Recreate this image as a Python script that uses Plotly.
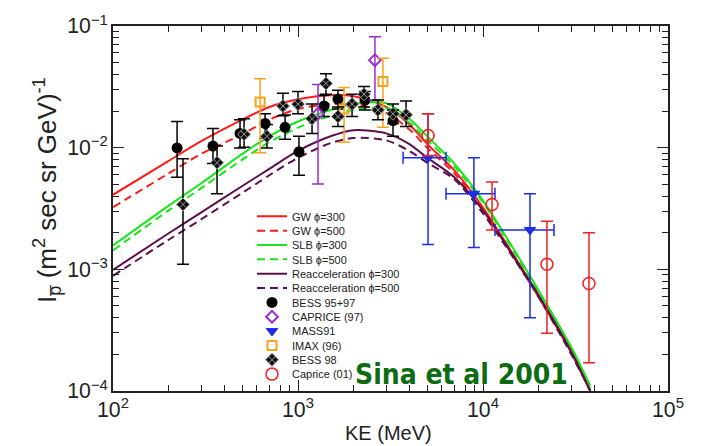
import plotly.graph_objects as go

# ---------------- model curves ----------------
E_model = [100, 200, 300, 500, 700, 1000, 1500, 2000, 3000, 4000, 5000, 7000, 10000, 15000, 20000, 30000, 38000]
gw300 = [4.1e-3, 7.8e-3, 1.13e-2, 1.7e-2, 2.16e-2, 2.5e-2, 2.7e-2, 2.65e-2, 2.16e-2, 1.55e-2, 1.07e-2, 6.5e-3, 3.22e-3, 1.23e-3, 6.1e-4, 2.14e-4, 1.0e-4]
gw500 = [3.24e-3, 6.15e-3, 8.9e-3, 1.29e-2, 1.7e-2, 2.08e-2, 2.28e-2, 2.28e-2, 1.93e-2, 1.41e-2, 9.96e-3, 6.15e-3, 3.1e-3, 1.19e-3, 5.9e-4, 2.06e-4, 9.9e-5]
slb300 = [1.57e-3, 3.34e-3, 5.1e-3, 8.9e-3, 1.24e-2, 1.64e-2, 2.04e-2, 2.29e-2, 2.32e-2, 1.73e-2, 1.24e-2, 7.4e-3, 3.67e-3, 1.38e-3, 6.7e-4, 2.3e-4, 1.1e-4]
slb500 = [1.43e-3, 3.05e-3, 4.65e-3, 7.98e-3, 1.11e-2, 1.46e-2, 1.83e-2, 2.04e-2, 2.12e-2, 1.61e-2, 1.15e-2, 7.0e-3, 3.54e-3, 1.33e-3, 6.5e-4, 2.22e-4, 1.04e-4]
reacc300 = [9.9e-4, 1.98e-3, 2.94e-3, 4.84e-3, 6.7e-3, 9.4e-3, 1.24e-2, 1.39e-2, 1.31e-2, 1.07e-2, 8.26e-3, 5.71e-3, 3.05e-3, 1.21e-3, 6.1e-4, 2.1e-4, 1.0e-4]
reacc500 = [8.85e-4, 1.75e-3, 2.58e-3, 4.25e-3, 5.93e-3, 8.26e-3, 1.09e-2, 1.2e-2, 1.15e-2, 9.4e-3, 7.5e-3, 5.5e-3, 2.88e-3, 1.17e-3, 5.9e-4, 2.0e-4, 1.0e-4]

# ---------------- data sets ----------------
bess9597_E = [222, 347, 486, 664, 851, 1012, 1383, 1644, 2300, 3263]
bess9597_I = [9.96e-3, 1.03e-2, 1.31e-2, 1.58e-2, 1.47e-2, 9.25e-3, 2.20e-2, 2.51e-2, 2.46e-2, 1.67e-2]
bess9597_hi = [1.64e-2, 1.44e-2, 1.70e-2, 1.90e-2, 1.86e-2, 1.24e-2, 2.70e-2, 2.96e-2, 2.90e-2, 2.04e-2]
bess9597_lo = [5.71e-3, 7.40e-3, 9.96e-3, 1.20e-2, 1.17e-2, 5.93e-3, 1.80e-2, 2.08e-2, 2.04e-2, 1.24e-2]

bess98_E = [239, 365, 511, 679, 829, 1000, 1191, 1416, 1644, 1960, 2275, 2705, 3263, 3838]
bess98_I = [3.41e-3, 7.53e-3, 1.29e-2, 1.24e-2, 2.20e-2, 2.28e-2, 1.73e-2, 3.37e-2, 1.80e-2, 2.28e-2, 2.75e-2, 2.04e-2, 1.90e-2, 1.86e-2]
bess98_hi = [8.11e-3, 1.03e-2, 1.73e-2, 1.55e-2, 2.80e-2, 2.90e-2, 2.28e-2, 4.05e-2, 2.16e-2, 2.75e-2, 3.18e-2, 2.46e-2, 2.28e-2, 2.42e-2]
bess98_lo = [1.10e-3, 4.18e-3, 1.01e-2, 9.96e-3, 1.83e-2, 1.90e-2, 1.31e-2, 2.75e-2, 1.49e-2, 1.80e-2, 2.16e-2, 1.70e-2, 1.58e-2, 1.49e-2]

caprice97_E = [1283, 2606]
caprice97_I = [1.90e-2, 5.24e-2]
caprice97_hi = [3.30e-2, 8.16e-2]
caprice97_lo = [5.02e-3, 2.46e-2]

imax_E = [624, 1774, 2878]
imax_I = [2.37e-2, 2.08e-2, 3.49e-2]
imax_hi = [3.69e-2, 3.13e-2, 5.43e-2]
imax_lo = [9.08e-3, 1.11e-2, 1.47e-2]

mass91_E = [5047, 8930, 17950]
mass91_I = [8.26e-3, 4.18e-3, 2.11e-3]
mass91_hi = [1.90e-2, 8.26e-3, 4.18e-3]
mass91_lo = [1.60e-3, 1.51e-3, 4.00e-4]
mass91_Elo = [3698, 6310, 11610]
mass91_Ehi = [6310, 11610, 24200]

caprice01_E = [5047, 11190, 22170, 37400]
caprice01_I = [1.26e-2, 3.41e-3, 1.10e-3, 7.64e-4]
caprice01_hi = [1.90e-2, 5.21e-3, 2.49e-3, 2.00e-3]
caprice01_lo = [8.58e-3, 2.11e-3, 2.98e-4, 1.71e-4]

x_log_range = [2, 5]
y_log_range = [-4, -1]

# ---------------- figure ----------------
fig = go.Figure()

RED = "#ff1a1a"
GREEN = "#19e619"
PURPLE = "#5c0f4c"
DASH = "8px,5px"

curves = [
    ("GW ϕ=300", gw300, RED, "solid"),
    ("GW ϕ=500", gw500, RED, DASH),
    ("SLB ϕ=300", slb300, GREEN, "solid"),
    ("SLB ϕ=500", slb500, GREEN, DASH),
    ("Reacceleration ϕ=300", reacc300, PURPLE, "solid"),
    ("Reacceleration ϕ=500", reacc500, PURPLE, DASH),
]

legend_ids = []
k = 0


def next_legend():
    global k
    k += 1
    lid = "legend" if k == 1 else "legend%d" % k
    legend_ids.append(lid)
    return lid


for name, vals, col, dash in curves:
    fig.add_trace(go.Scatter(
        x=E_model, y=vals, mode="lines", name=name,
        line=dict(color=col, width=2, dash=dash, shape="spline", smoothing=0.8),
        legend=next_legend(),
    ))


def err(vals, hi, lo):
    return (dict(type="data", symmetric=False,
                 array=[h - v for h, v in zip(hi, vals)],
                 arrayminus=[v - l for v, l in zip(vals, lo)]))


def add_points(name, E, I, hi, lo, color, symbol, size, mcolor, lcolor, lw, ex=None):
    ey = err(I, hi, lo)
    ey.update(color=color, thickness=1.5, width=6)
    kw = {}
    if ex is not None:
        kw["error_x"] = ex
    fig.add_trace(go.Scatter(
        x=E, y=I, mode="markers", name=name,
        marker=dict(symbol=symbol, size=size, color=mcolor,
                    line=dict(color=lcolor, width=lw)),
        error_y=ey, legend=next_legend(), **kw,
    ))


add_points("BESS 95+97", bess9597_E, bess9597_I, bess9597_hi, bess9597_lo,
           "black", "circle", 11, "black", "black", 0)
add_points("CAPRICE (97)", caprice97_E, caprice97_I, caprice97_hi, caprice97_lo,
           "#9b2bd6", "diamond-open", 9, "#9b2bd6", "#9b2bd6", 2)
ex_mass = dict(type="data", symmetric=False,
               array=[h - e for h, e in zip(mass91_Ehi, mass91_E)],
               arrayminus=[e - l for e, l in zip(mass91_E, mass91_Elo)],
               color="#1a2ee6", thickness=1.5, width=6)
add_points("MASS91", mass91_E, mass91_I, mass91_hi, mass91_lo,
           "#1a2ee6", "triangle-down", 10, "#1a2ee6", "#1a2ee6", 1, ex=ex_mass)
add_points("IMAX (96)", imax_E, imax_I, imax_hi, imax_lo,
           "#f7a21b", "square-open", 9, "#f7a21b", "#f7a21b", 2)
add_points("BESS 98", bess98_E, bess98_I, bess98_hi, bess98_lo,
           "black", "diamond-x", 10, "#111111", "#9a9a9a", 1)
add_points("Caprice (01)", caprice01_E, caprice01_I, caprice01_hi, caprice01_lo,
           "#f22020", "circle-open", 12, "#f22020", "#f22020", 1.5)

# ---------------- layout ----------------
W, H = 702, 446
L, R, T, B = 113, 34, 17, 55
plot_h = H - T - B


def paper_y(py):
    return (H - B - py) / plot_h


legend_layout = {}
for i, lid in enumerate(legend_ids):
    py = 212 + 14.7 * i
    legend_layout[lid] = dict(
        x=(252 - L) / (W - L - R), xanchor="left",
        y=paper_y(py), yanchor="middle",
        bgcolor="rgba(0,0,0,0)", borderwidth=0,
        font=dict(family="Liberation Sans, Arial, sans-serif", size=11, color="#222222"),
        itemwidth=30,
    )

axis_common = dict(
    type="log", showline=True, linecolor="#222222", linewidth=1.5, mirror="ticks",
    ticks="inside", ticklen=11, tickwidth=1.2, tickcolor="#222222",
    showgrid=False, zeroline=False, exponentformat="power", dtick=1,
    tickfont=dict(family="Liberation Sans, Arial, sans-serif", size=17, color="#222222"),
    minor=dict(ticks="inside", ticklen=6, tickwidth=1, tickcolor="#222222", dtick="D1", showgrid=False),
)

fig.update_layout(
    width=W, height=H,
    margin=dict(l=L, r=R, t=T, b=B),
    paper_bgcolor="white", plot_bgcolor="white",
    showlegend=True,
    xaxis=dict(range=x_log_range, **axis_common),
    yaxis=dict(range=y_log_range, **axis_common),
    **legend_layout,
)

fig.add_annotation(
    text="KE (MeV)", xref="paper", yref="paper",
    x=(388 - L) / (W - L - R), y=paper_y(434), xanchor="center", yanchor="middle",
    showarrow=False,
    font=dict(family="Liberation Sans, Arial, sans-serif", size=20, color="#222222"),
)
fig.add_annotation(
    text="I<sub>p\u0305</sub> (m<sup>2</sup> sec sr GeV)<sup>-1</sup>", xref="paper", yref="paper",
    x=(47 - L) / (W - L - R), y=paper_y(185), xanchor="center", yanchor="middle",
    textangle=-90, showarrow=False,
    font=dict(family="Liberation Sans, Arial, sans-serif", size=26, color="#222222"),
)
fig.add_annotation(
    text="<b>Sina et al 2001</b>", xref="paper", yref="paper",
    x=(353 - L) / (W - L - R), y=paper_y(374), xanchor="left", yanchor="middle",
    showarrow=False,
    font=dict(family="DejaVu Sans Condensed, sans-serif", size=28, color="#0d6b12"),
)

fig.write_html("out.html")
